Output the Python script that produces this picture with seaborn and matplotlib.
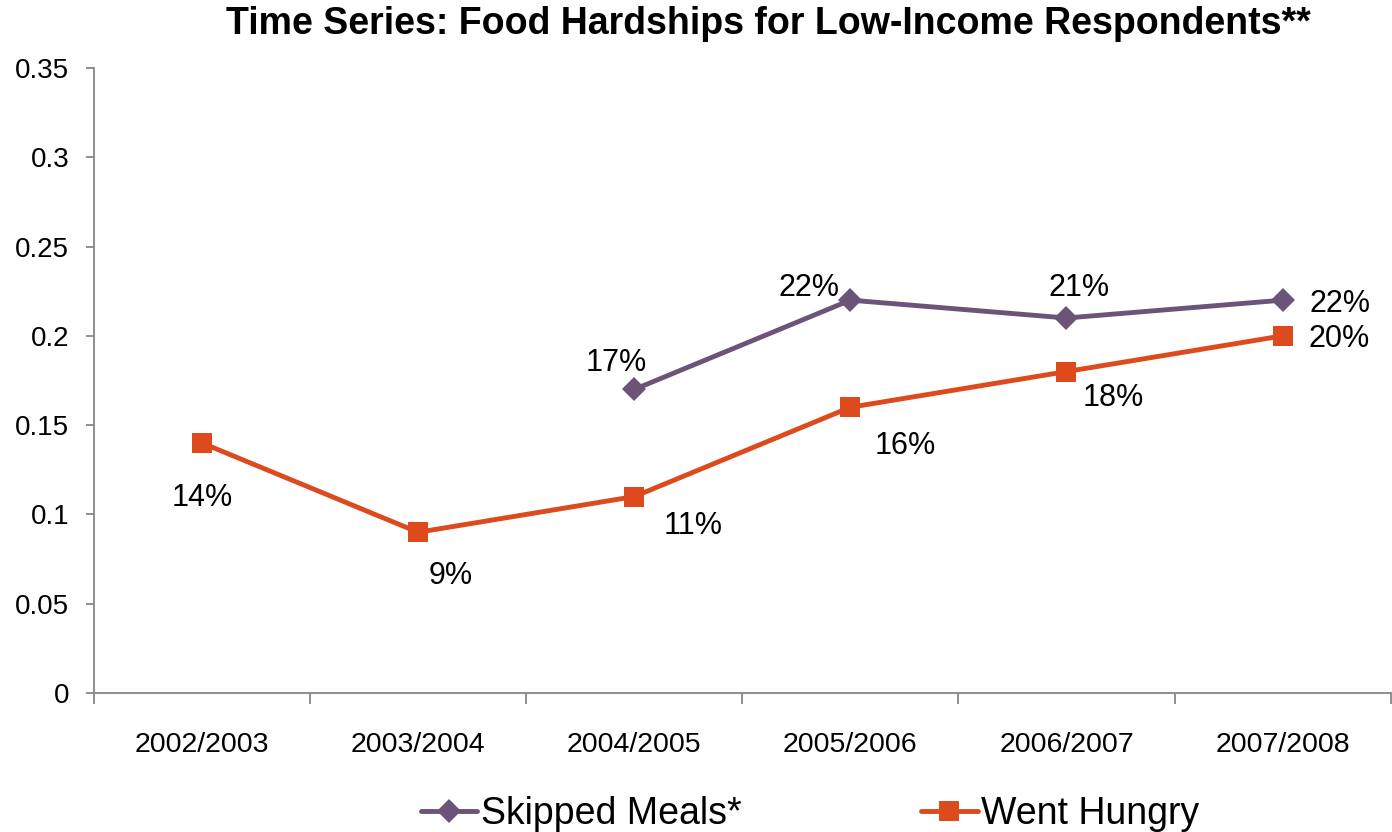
import matplotlib
matplotlib.use("Agg")
import matplotlib.pyplot as plt
from matplotlib.lines import Line2D
from matplotlib.ticker import FixedLocator, FuncFormatter
import numpy as np
import pandas as pd
import seaborn as sns

sns.set_theme(style="white")
plt.rcParams['font.family'] = ['Liberation Sans', 'DejaVu Sans']
plt.rcParams['text.color'] = 'black'
plt.rcParams['xtick.color'] = 'black'
plt.rcParams['ytick.color'] = 'black'

# data
years = ['2002/2003', '2003/2004', '2004/2005', '2005/2006', '2006/2007', '2007/2008']
skipped_meals = [np.nan, np.nan, 0.17, 0.22, 0.21, 0.22]
went_hungry = [0.14, 0.09, 0.11, 0.16, 0.18, 0.20]

purple = '#6B5478'
orange = '#DD4A1E'

df = pd.DataFrame({'pos': np.arange(len(years)), 'year': years,
                   'skipped': skipped_meals, 'hungry': went_hungry})

fig = plt.figure(figsize=(13.92, 8.32), dpi=100)
ax = fig.add_axes([94 / 1392, 1 - 693 / 832, 1 - 94 / 1392 - 0.001, (693 - 68) / 832])

sns.lineplot(data=df.dropna(subset=['skipped']), x='pos', y='skipped', ax=ax,
             color=purple, lw=3.5, marker='D', markersize=12.5, markeredgewidth=0)
sns.lineplot(data=df, x='pos', y='hungry', ax=ax,
             color=orange, lw=3.5, marker='s', markersize=15, markeredgewidth=0)

ax.set_xlim(-0.5, 5.5)
ax.set_ylim(0, 0.35)
ax.set_xticks(df['pos'])
ax.set_xticklabels(years)
ax.set_yticks(np.arange(0, 0.351, 0.05))
ax.yaxis.set_major_formatter(FuncFormatter(lambda v, p: '%g' % round(v, 2)))
ax.xaxis.set_minor_locator(FixedLocator(np.arange(-0.5, 5.6, 1.0)))
ax.set_xlabel('')
ax.set_ylabel('')

for s in ['top', 'right']:
    ax.spines[s].set_visible(False)
for s in ['left', 'bottom']:
    ax.spines[s].set_color('#868686')
    ax.spines[s].set_linewidth(1.3)

ax.tick_params(axis='y', which='major', left=True, length=6, width=1.3, color='#868686',
               labelsize=20, pad=12)
ax.tick_params(axis='x', which='major', bottom=False, labelsize=20.5, pad=22)
ax.tick_params(axis='x', which='minor', bottom=True, length=8, width=1.3, color='#868686')

# data labels (pixel offsets from the point)
hungry_off = [(0, -55), (33, -44), (59, -29), (55, -39), (47, -26), (57, -3)]
skipped_off = [None, None, (-18, 26), (-41, 12), (13, 30), (57, -4)]

for i, v in enumerate(went_hungry):
    ax.annotate(f'{v:.0%}', (i, v), xytext=hungry_off[i], textcoords='offset pixels',
                ha='center', va='center', fontsize=22, color='black')
for i, v in enumerate(skipped_meals):
    if np.isnan(v):
        continue
    ax.annotate(f'{v:.0%}', (i, v), xytext=skipped_off[i], textcoords='offset pixels',
                ha='center', va='center', fontsize=22, color='black')

fig.text(768 / 1392, 1 - 24 / 832, 'Time Series: Food Hardships for Low-Income Respondents**',
         ha='center', va='center', fontsize=27, fontweight='bold')

handles = [Line2D([], [], color=purple, lw=3.5, marker='D', markersize=12.5, markeredgewidth=0),
           Line2D([], [], color=orange, lw=3.5, marker='s', markersize=15, markeredgewidth=0)]
fig.legend(handles, ['Skipped Meals*', 'Went Hungry'], loc='center', ncol=2,
           bbox_to_anchor=(810 / 1392, 1 - 814 / 832), frameon=False, fontsize=27,
           handlelength=1.5, handletextpad=0.1, columnspacing=4.8)

fig.savefig('out.png', dpi=100)
